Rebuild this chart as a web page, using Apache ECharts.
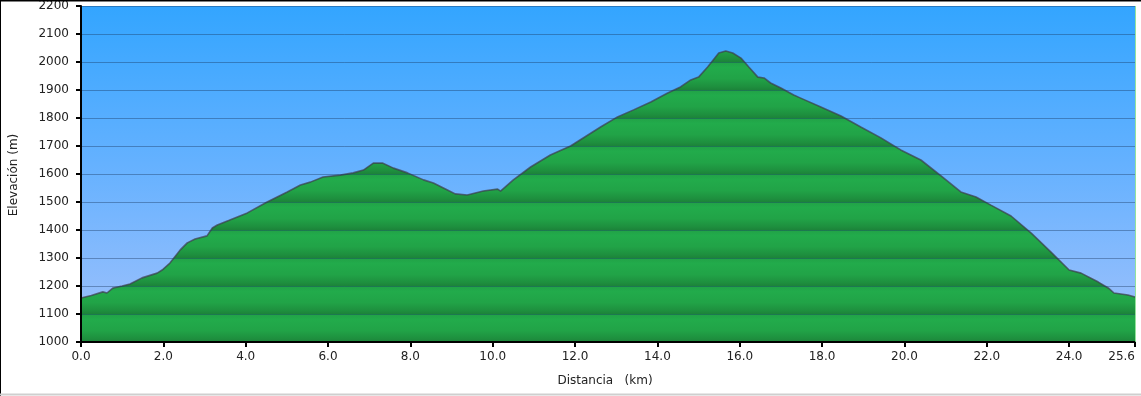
<!DOCTYPE html>
<html><head><meta charset="utf-8">
<script src="https://cdn.jsdelivr.net/npm/echarts@6/dist/echarts.min.js"></script>
<style>html,body{margin:0;padding:0;background:#fff}#c{width:1141px;height:396px}</style>
</head><body><div id="c"></div>
<script>
const distKm = [0,0.25,0.53,0.63,0.78,1.0,1.19,1.48,1.85,1.97,2.16,2.41,2.58,2.77,3.06,3.19,3.31,3.6,4.04,4.52,5.01,5.33,5.57,5.88,6.30,6.61,6.86,7.10,7.32,7.59,7.93,8.32,8.56,8.90,9.09,9.38,9.77,10.12,10.19,10.50,10.92,11.40,11.89,12.62,13.03,13.42,13.84,14.25,14.56,14.81,15.0,15.22,15.49,15.66,15.83,16.03,16.22,16.44,16.59,16.75,17.0,17.31,17.48,17.97,18.46,18.94,19.43,19.91,20.4,20.89,21.37,21.74,22.1,22.59,23.08,23.56,24.0,24.29,24.71,24.95,25.09,25.43,25.6];
const elevM = [1157,1166,1179,1175,1193,1200,1207,1229,1246,1257,1282,1329,1354,1368,1379,1407,1418,1435,1461,1500,1536,1561,1571,1589,1596,1604,1614,1639,1639,1621,1604,1579,1568,1543,1529,1525,1539,1546,1539,1579,1625,1668,1700,1768,1804,1829,1857,1889,1911,1936,1946,1982,2032,2039,2032,2014,1982,1946,1943,1925,1907,1882,1871,1839,1807,1768,1729,1686,1650,1593,1536,1518,1489,1450,1389,1321,1257,1246,1214,1193,1175,1168,1161];
const yTitle = 'Elevación (m)';
const xTitle = 'Distancia   (km)';
const yMin = 1000, yMax = 2200, yStep = 100;
const xMin = 0, xMax = 25.6, xStep = 2;

const GL = 81, GT = 6, GW = 1054, GH = 336;
const chart = echarts.init(document.getElementById('c'));
const data = distKm.map((d, i) => [d, elevM[i]]);

// banded green fill, one band per 100 m
const stops = [];
const nBands = (yMax - yMin) / yStep;
const bandStops = [[0.0,'#21a247'],[0.2,'#22ab4b'],[0.6,'#21a347'],[0.88,'#1e8f3e'],[1.0,'#1c8339']];
for (let b = 0; b < nBands; b++) {
  const top = b / nBands, h = 1 / nBands;
  bandStops.forEach(([o, c], k) => {
    let off = top + o * h;
    if (k === 0) off += 0.0005;
    stops.push({offset: Math.min(1, off), color: c});
  });
}
const greenFill = new echarts.graphic.LinearGradient(0, GT, 0, GT + GH, stops, true);
const skyFill = new echarts.graphic.LinearGradient(0, 0, 0, 1, [
  {offset: 0, color: '#33a5ff'}, {offset: 0.5, color: '#68b2ff'}, {offset: 1, color: '#a2c2fb'}
]);

const font = 'DejaVu Sans, Verdana, sans-serif';
chart.setOption({
  animation: false,
  grid: {left: GL, top: GT, width: GW, height: GH, show: true, backgroundColor: skyFill, borderWidth: 0},
  xAxis: {
    type: 'value', min: xMin, max: xMax, interval: xStep, z: 5,
    axisLine: {show: true, lineStyle: {color: '#000', width: 2}},
    axisTick: {show: true, length: 5, lineStyle: {color: '#000', width: 2}},
    axisLabel: {color: '#222', fontFamily: font, fontSize: 12, margin: 9,
      showMaxLabel: true, alignMaxLabel: 'right',
      formatter: v => v.toFixed(1)},
    splitLine: {show: false}
  },
  yAxis: {
    type: 'value', min: yMin, max: yMax, interval: yStep, z: 5,
    axisLine: {show: true, lineStyle: {color: '#000', width: 2}},
    axisTick: {show: true, length: 5, lineStyle: {color: '#000', width: 2}},
    axisLabel: {color: '#222', fontFamily: font, fontSize: 12, margin: 12, formatter: v => String(v)},
    splitLine: {show: true, lineStyle: {color: 'rgba(25,55,95,0.4)', width: 1}}
  },
  series: [{
    type: 'line', data: data, showSymbol: false, z: 2,
    lineStyle: {color: 'rgba(60,60,75,0.7)', width: 1.6},
    areaStyle: {color: greenFill, opacity: 1, origin: 'start'}
  }],
  graphic: [
    {type: 'text', z: 10, silent: true, x: 14, y: 175, rotation: Math.PI / 2,
      style: {text: yTitle, font: '12px ' + font, fill: '#222', align: 'center', verticalAlign: 'middle'}},
    {type: 'text', z: 10, silent: true, x: 605, y: 381,
      style: {text: xTitle, font: '12px ' + font, fill: '#222', align: 'center', verticalAlign: 'middle'}},
    {type: 'line', z: 10, silent: true, shape: {x1: 0, y1: 0.5, x2: 1141, y2: 0.5}, style: {stroke: '#000', lineWidth: 2}},
    {type: 'line', z: 10, silent: true, shape: {x1: 0.5, y1: 0, x2: 0.5, y2: 396}, style: {stroke: '#000', lineWidth: 1}},
    {type: 'line', z: 10, silent: true, shape: {x1: 0, y1: 394.5, x2: 1141, y2: 394.5}, style: {stroke: '#cfcfcf', lineWidth: 2}},
    {type: 'line', z: 10, silent: true, shape: {x1: GL + GW + 0.5, y1: GT, x2: GL + GW + 0.5, y2: GT + GH}, style: {stroke: 'rgba(120,220,130,0.8)', lineWidth: 1}}
  ]
});
</script></body></html>
